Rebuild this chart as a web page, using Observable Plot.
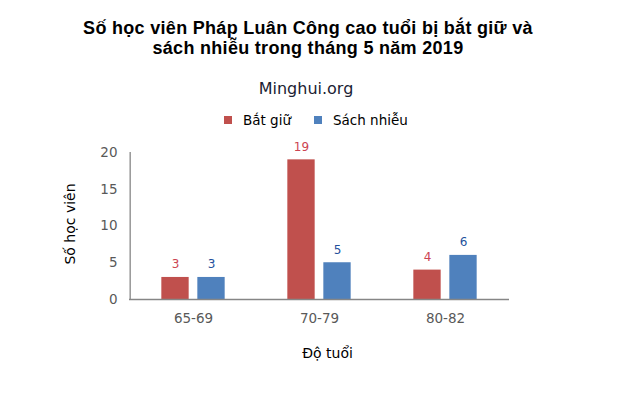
<!DOCTYPE html>
<html>
<head>
<meta charset="utf-8">
<script src="https://cdn.jsdelivr.net/npm/d3@7"></script>
<script src="https://cdn.jsdelivr.net/npm/@observablehq/plot@0.6"></script>
<style>
  html, body { margin: 0; padding: 0; background: #fff; }
  #wrap { position: relative; width: 622px; height: 394px; overflow: hidden; background: #fff; }
  #wrap svg { position: absolute; left: 0; top: 0; }
  .title { position: absolute; left: 8px; top: 19px; width: 600px; text-align: center;
    font: bold 18px "Liberation Sans", Arial, sans-serif; line-height: 19.5px; letter-spacing: 0.3px; color: #000; white-space: nowrap; }
  .sub { position: absolute; left: 206px; top: 80px; width: 200px; text-align: center;
    font: 16px "DejaVu Sans", Verdana, sans-serif; line-height: 18.6px; color: #1b2233; }
  .legend { position: absolute; left: 224px; top: 111px; display: flex; align-items: center;
    font: 13.5px "DejaVu Sans", Verdana, sans-serif; color: #000; height: 18px; }
  .legend .item { display: flex; align-items: center; margin-right: 23px; }
  .legend .sw { width: 8px; height: 8px; margin-right: 11px; }
</style>
</head>
<body>
<div id="wrap">
  <div class="title">Số học viên Pháp Luân Công cao tuổi bị bắt giữ và<br>sách nhiễu trong tháng 5 năm 2019</div>
  <div class="sub">Minghui.org</div>
  <div class="legend" id="legend"></div>
</div>
<script>
const ages = ["65-69", "70-79", "80-82"];
const seriesNames = ["Bắt giữ", "Sách nhiễu"];
const arrested = [3, 19, 4];
const harassed = [3, 5, 6];
const seriesColors = ["#C0504D", "#4F81BD"];
const labelColors = ["#cc4452", "#24509c"];
const yTicks = [0, 5, 10, 15, 20];
const xTitle = "Độ tuổi";
const yTitle = "Số học viên";

const seriesValues = [arrested, harassed];
const rows = [];
seriesNames.forEach((s, si) => ages.forEach((a, ai) => rows.push({age: a, series: s, si, value: seriesValues[si][ai]})));

// legend
const leg = document.getElementById("legend");
seriesNames.forEach((s, i) => {
  const it = document.createElement("div");
  it.className = "item";
  const sw = document.createElement("div");
  sw.className = "sw";
  sw.style.background = seriesColors[i];
  const tx = document.createElement("span");
  tx.textContent = s;
  it.appendChild(sw); it.appendChild(tx);
  leg.appendChild(it);
});

const W = 622, H = 394;
const mL = 129, mR = 113, mT = 152, mB = 95;
const step = (W - mL - mR) / ages.length;
const half = step / 2;
const barW = 28, off = 18;

const marks = [];
seriesNames.forEach((s, si) => {
  const d = rows.filter(r => r.si === si);
  const center = si === 0 ? -off : off;
  const left = half + center - barW / 2;
  const right = step - left - barW;
  marks.push(Plot.barY(d, {x: "age", y: "value", fill: seriesColors[si], insetLeft: left, insetRight: right}));
  marks.push(Plot.text(d, {x: "age", y: "value", text: r => String(r.value), dx: center, dy: -13,
    fill: labelColors[si], fontSize: 12, fontFamily: "DejaVu Sans, Verdana, sans-serif"}));
});

const chart = Plot.plot({
  width: W, height: H,
  marginLeft: mL, marginRight: mR, marginTop: mT, marginBottom: mB,
  style: {fontFamily: "DejaVu Sans, Verdana, sans-serif", fontSize: "13.5px", background: "transparent", overflow: "visible"},
  x: {domain: ages, padding: 0, label: null, tickSize: 0, tickPadding: 14},
  y: {domain: [0, 20], ticks: yTicks, label: null, tickSize: 0, tickPadding: 12},
  marks: [
    Plot.axisX({tickSize: 0, tickPadding: 14, color: "#595959", fontSize: 13.5, label: null}),
    Plot.axisY({ticks: yTicks, tickSize: 0, tickPadding: 12, color: "#595959", fontSize: 13.5, label: null}),
    ...marks,
    Plot.ruleY([0], {stroke: "#868686", strokeWidth: 1.3}),
    Plot.ruleX([ages[0]], {x: d => d, y1: 0, y2: 20, dx: -half, stroke: "#868686", strokeWidth: 1.3}),
    Plot.text([xTitle], {frameAnchor: "bottom", dy: 54, dx: 8, lineAnchor: "middle", textAnchor: "middle", fontSize: 14, fill: "#000"}),
    Plot.text([yTitle], {frameAnchor: "left", dx: -59, dy: -2, rotate: -90, textAnchor: "middle", lineAnchor: "middle", fontSize: 14, fill: "#000"})
  ]
});
document.getElementById("wrap").prepend(chart);
</script>
</body>
</html>
